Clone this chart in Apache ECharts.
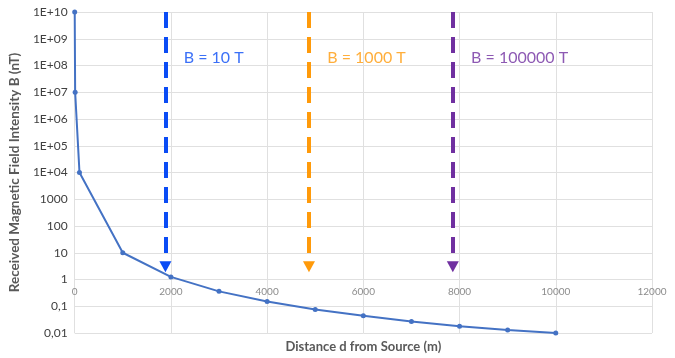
<!DOCTYPE html>
<html><head><meta charset="utf-8">
<script src="https://cdn.jsdelivr.net/npm/echarts@6/dist/echarts.min.js"></script>
<style>html,body{margin:0;padding:0;background:#fff}#c{width:675px;height:358px}</style>
</head><body><div id="c"></div>
<script>
var distances = [1, 10, 100, 1000, 2000, 3000, 4000, 5000, 6000, 7000, 8000, 9000, 10000];
var fieldNT = [1e10, 1e7, 1e4, 10, 1.25, 0.36, 0.15, 0.075, 0.044, 0.027, 0.018, 0.013, 0.01];
var markerNames = ['B = 10 T', 'B = 1000 T', 'B = 100000 T'];
var markerDistance = [1886, 4870, 7860];
var markerColors = ['#0a4cf5', '#ff9a0a', '#7030a0'];
var markerTop = 1e10, markerTip = 3;
var labelOffsetX = 370, labelY = 1.9e8;
var yTickLabels = {'-2':'0,01','-1':'0,1','0':'1','1':'10','2':'100','3':'1000','4':'1E+04','5':'1E+05','6':'1E+06','7':'1E+07','8':'1E+08','9':'1E+09','10':'1E+10'};

var font = 'Lato, "Open Sans", sans-serif';
var chart = echarts.init(document.getElementById('c'));
var series = [{
  type: 'line',
  data: distances.map(function(d, i){ return [d, fieldNT[i]]; }),
  symbol: 'circle', symbolSize: 5,
  lineStyle: {color: '#4472c4', width: 2},
  itemStyle: {color: '#4472c4'},
  z: 5
}];
markerNames.forEach(function(name, i){
  series.push({
    type: 'line', data: [], silent: true,
    markLine: {
      silent: true, animation: false,
      symbol: ['none', 'triangle'], symbolSize: [12, 11],
      label: {show: false},
      lineStyle: {color: markerColors[i], width: 4, type: [16, 9], opacity: 1},
      data: [[{coord: [markerDistance[i], markerTop]}, {coord: [markerDistance[i], markerTip]}]]
    }
  });
  series.push({
    type: 'scatter', symbol: 'circle', symbolSize: 1, silent: true,
    itemStyle: {color: 'rgba(0,0,0,0)'},
    data: [[markerDistance[i] + labelOffsetX, labelY]],
    label: {show: true, position: 'right', distance: 0, formatter: name,
      color: markerColors[i], fontSize: 16, fontFamily: font},
    labelLayout: {hideOverlap: false}
  });
});

chart.setOption({
  animation: false,
  grid: {left: 74, right: 23, top: 12, bottom: 24, containLabel: false},
  xAxis: {
    type: 'value', min: 0, max: 12000, interval: 2000, offset: -54,
    axisLine: {show: false}, axisTick: {show: false},
    axisLabel: {color: '#8c8c8c', fontSize: 10, fontFamily: font, margin: 8,
      formatter: function(v){ return String(v); }},
    splitLine: {show: true, lineStyle: {color: '#e0e0e0', width: 1}},
    name: 'Distance d from Source (m)', nameLocation: 'middle', nameGap: 61,
    nameTextStyle: {color: '#595959', fontSize: 13, fontWeight: 'bold', fontFamily: font}
  },
  yAxis: {
    type: 'log', logBase: 10, min: 0.01, max: 1e10, interval: 1,
    axisLine: {show: false}, axisTick: {show: false},
    axisLabel: {color: '#404040', fontSize: 12, fontFamily: font, margin: 7, showMinLabel: true, showMaxLabel: true,
      formatter: function(v){ var e = Math.round(Math.log10(v)); return yTickLabels[String(e)]; }},
    splitLine: {show: true, lineStyle: {color: '#e0e0e0', width: 1}},
    name: 'Received Magnetic Field Intensity B (nT)', nameLocation: 'middle', nameGap: 43,
    nameTextStyle: {color: '#595959', fontSize: 13.5, fontWeight: 'bold', fontFamily: font}
  },
  series: series
});
</script></body></html>
